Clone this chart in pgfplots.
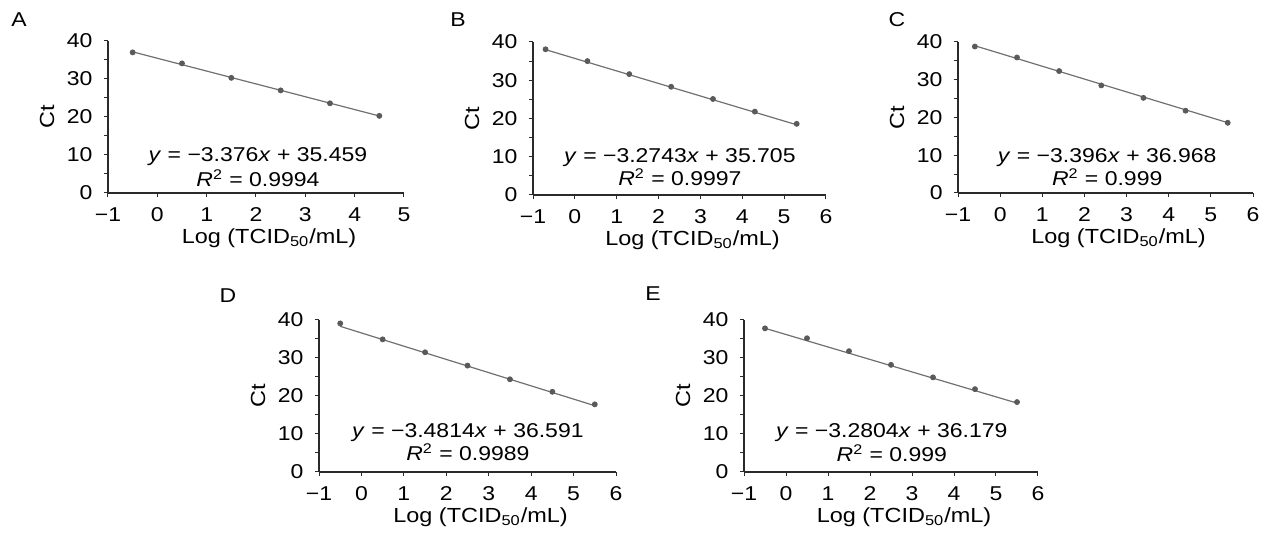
\documentclass[border=0pt]{standalone}
\usepackage{fontspec}
\setmainfont[FakeStretch=1.15]{Liberation Sans}
\usepackage{pgfplots}
\pgfplotsset{compat=1.18}
\definecolor{lnc}{HTML}{707070}
\definecolor{mkc}{HTML}{5A5A5A}
\definecolor{axc}{HTML}{2A2A2A}

\pgfplotsset{
  panel/.style={
    scale only axis,
    anchor=south west,
    axis lines=left,
    axis line style={-, axc, line width=0.6pt},
    ymin=0, ymax=40,
    ytick={0,10,20,30,40},
    minor ytick={5,15,25,35},
    tick align=outside,
    major tick length=2.2pt,
    minor tick length=1.8pt,
    tick style={axc, line width=0.5pt},
    clip=false,
    /pgf/number format/assume math mode=true,
    tick label style={font=\fontsize{10}{11}\selectfont},
    label style={font=\fontsize{10.2}{11}\selectfont},
    ylabel={Ct},
    xlabel={Log (TCID\textsubscript{50}/mL)},
    ylabel style={yshift=-0.5pt},
    xlabel style={yshift=3.5pt, xshift=6.5pt},
    yticklabel style={xshift=-2pt},
    xticklabel style={yshift=-1.5pt},
  },
  fit/.style={lnc, line width=0.6pt},
  pts/.style={only marks, mark=*, mark size=1.25pt, mark options={mkc, fill=mkc}},
}
\newcommand{\eqn}[1]{\fontsize{10}{11}\selectfont #1}

\begin{document}
\begin{tikzpicture}
\useasboundingbox (0,0) rectangle (634.5pt,269.5pt);

% panel letters
\node[font=\fontsize{10}{11}\selectfont] at (9.5pt,259.5pt) {A};
\node[font=\fontsize{10}{11}\selectfont] at (229pt,259.5pt) {B};
\node[font=\fontsize{10}{11}\selectfont] at (448.5pt,259.5pt) {C};
\node[font=\fontsize{10}{11}\selectfont] at (114pt,121.5pt) {D};
\node[font=\fontsize{10}{11}\selectfont] at (326.5pt,122.5pt) {E};

% A
\begin{axis}[panel, at={(54pt,173pt)}, width=148pt, height=76pt,
  xmin=-1, xmax=5, xtick={-1,0,1,2,3,4,5},
  xticklabels={−1,0,1,2,3,4,5}]
\addplot[fit] coordinates {(-0.5,37.147) (4.5,20.267)};
\addplot[pts] coordinates {(-0.5,37.0) (0.5,34.1) (1.5,30.3) (2.5,27.0) (3.5,23.6) (4.5,20.3)};
\node[font=\eqn{}] at (axis cs:2.04,9.5) {\textit{y} = −3.376\textit{x} + 35.459};
\node[font=\eqn{}] at (axis cs:2.04,3.9) {\textit{R}\textsuperscript{2} = 0.9994};
\end{axis}

% B
\begin{axis}[panel, at={(266.5pt,172pt)}, width=146.5pt, height=76.5pt,
  xmin=-1, xmax=6, xtick={-1,0,1,2,3,4,5,6},
  xticklabels={−1,0,1,2,3,4,5,6}]
\addplot[fit] coordinates {(-0.7,37.997) (5.3,18.351)};
\addplot[pts] coordinates {(-0.7,38.1) (0.3,35.0) (1.3,31.6) (2.3,28.3) (3.3,25.1) (4.3,21.8) (5.3,18.6)};
\node[font=\eqn{}] at (axis cs:2.51,9.9) {\textit{y} = −3.2743\textit{x} + 35.705};
\node[font=\eqn{}] at (axis cs:2.51,4.7) {\textit{R}\textsuperscript{2} = 0.9997};
\end{axis}

% C
\begin{axis}[panel, at={(479pt,173pt)}, width=147.5pt, height=75.5pt,
  xmin=-1, xmax=6, xtick={-1,0,1,2,3,4,5,6},
  xticklabels={−1,0,1,2,3,4,5,6}]
\addplot[fit] coordinates {(-0.6,39.006) (5.4,18.630)};
\addplot[pts] coordinates {(-0.6,38.8) (0.4,35.9) (1.4,32.3) (2.4,28.5) (3.4,25.2) (4.4,21.8) (5.4,18.6)};
\node[font=\eqn{}] at (axis cs:2.54,9.5) {\textit{y} = −3.396\textit{x} + 36.968};
\node[font=\eqn{}] at (axis cs:2.54,4.2) {\textit{R}\textsuperscript{2} = 0.999};
\end{axis}

% D
\begin{axis}[panel, at={(159.5pt,33.5pt)}, width=148.5pt, height=76pt,
  xmin=-1, xmax=6, xtick={-1,0,1,2,3,4,5,6},
  xticklabels={−1,0,1,2,3,4,5,6}]
\addplot[fit] coordinates {(-0.5,38.332) (5.5,17.443)};
\addplot[pts] coordinates {(-0.5,39.1) (0.5,34.9) (1.5,31.5) (2.5,28.0) (3.5,24.4) (4.5,21.1) (5.5,17.8)};
\node[font=\eqn{}] at (axis cs:2.51,10.5) {\textit{y} = −3.4814\textit{x} + 36.591};
\node[font=\eqn{}] at (axis cs:2.51,5.3) {\textit{R}\textsuperscript{2} = 0.9989};
\end{axis}

% E
\begin{axis}[panel, at={(372pt,33.5pt)}, width=147pt, height=76pt,
  xmin=-1, xmax=6, xtick={-1,0,1,2,3,4,5,6},
  xticklabels={−1,0,1,2,3,4,5,6}]
\addplot[fit] coordinates {(-0.5,37.819) (5.5,18.137)};
\addplot[pts] coordinates {(-0.5,37.8) (0.5,35.2) (1.5,31.8) (2.5,28.2) (3.5,24.9) (4.5,21.8) (5.5,18.4)};
\node[font=\eqn{}] at (axis cs:2.52,10.5) {\textit{y} = −3.2804\textit{x} + 36.179};
\node[font=\eqn{}] at (axis cs:2.52,5.0) {\textit{R}\textsuperscript{2} = 0.999};
\end{axis}
\end{tikzpicture}
\end{document}
